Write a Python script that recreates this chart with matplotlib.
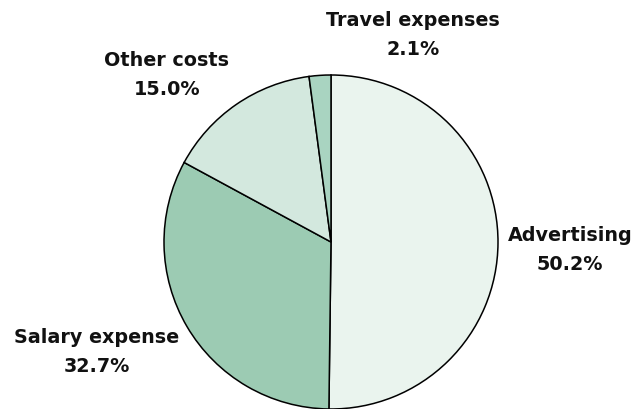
import matplotlib
matplotlib.use("Agg")
import matplotlib.pyplot as plt

# expense shares, clockwise from the top
categories = ["Advertising", "Salary expense", "Other costs", "Travel expenses"]
shares = [50.2, 32.7, 15.0, 2.1]
colors = ["#eaf4ee", "#9ccbb3", "#d3e8de", "#a9d4c1"]

# label anchors: centre x and baseline of the percent line (pixels from top-left)
label_pos = [(570, 270), (97, 372), (167, 95), (413, 55)]
line_gap = 29

W, H = 636, 409
fig = plt.figure(figsize=(W / 100, H / 100), dpi=100)
ax = fig.add_axes([0, 0, 1, 1])

ax.pie(shares, colors=colors, startangle=90, counterclock=False,
       center=(331, H - 242), radius=167, frame=True,
       wedgeprops=dict(edgecolor="black", linewidth=1.1))
ax.set_xlim(0, W)
ax.set_ylim(0, H)
ax.set_aspect("equal")
ax.axis("off")

font = dict(family="DejaVu Sans", fontsize=13.8, fontweight="bold",
            color="#111111", ha="center", va="baseline")
for name, val, (x, y) in zip(categories, shares, label_pos):
    ax.text(x, H - y + line_gap, name, **font)
    ax.text(x, H - y, "%.1f%%" % val, **font)

fig.savefig("out.png", dpi=100)
